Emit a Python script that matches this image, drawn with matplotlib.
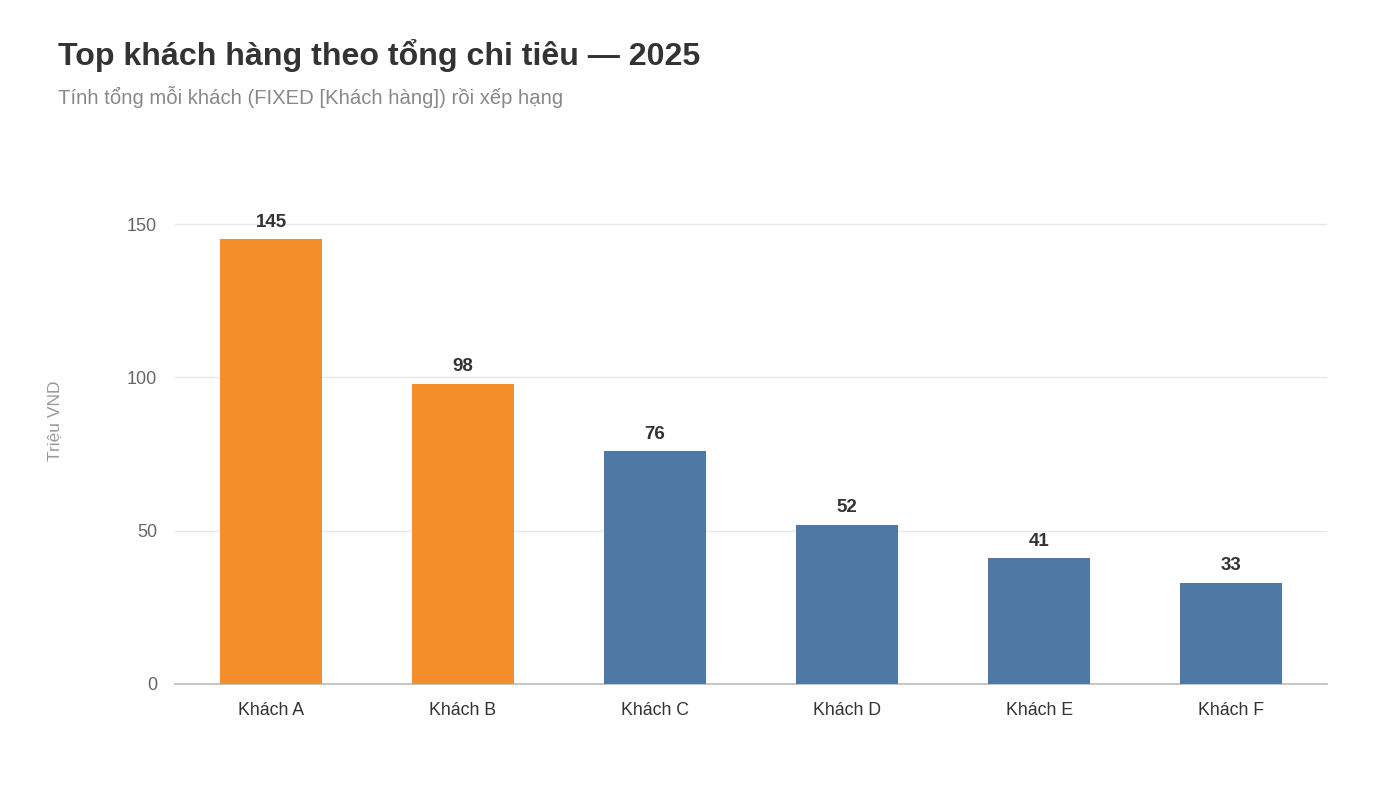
import matplotlib
matplotlib.use("Agg")
import matplotlib.pyplot as plt

categories = ["Khách A", "Khách B", "Khách C", "Khách D", "Khách E", "Khách F"]
values = [145, 98, 76, 52, 41, 33]
highlight = [True, True, False, False, False, False]
yticks = [0, 50, 100, 150]

title = "Top khách hàng theo tổng chi tiêu — 2025"
subtitle = "Tính tổng mỗi khách (FIXED [Khách hàng]) rồi xếp hạng"
ylabel = "Triệu VND"

plt.rcParams['font.family'] = ['Liberation Sans', 'DejaVu Sans']

fig = plt.figure(figsize=(14, 7.87), dpi=100)
ax = fig.add_axes([0.125, 0.1309, 0.823, 0.67])

colors = ["#F28E2B" if h else "#4E79A7" for h in highlight]
x = range(len(categories))
ax.bar(x, values, width=0.53, color=colors, zorder=3)

for xi, v in zip(x, values):
    ax.annotate(f"{v}", (xi, v), xytext=(0, 6), textcoords="offset points",
                ha="center", va="bottom", fontsize=13.5, fontweight="bold", color="#333333")

ax.set_xlim(-0.5, len(categories) - 0.5)
ax.set_ylim(0, 172)
ax.set_yticks(yticks)
ax.set_xticks(list(x))
ax.set_xticklabels(categories)
ax.tick_params(axis="y", length=0, labelsize=13, labelcolor="#666666", pad=13)
ax.tick_params(axis="x", length=0, labelsize=12.8, labelcolor="#333333", pad=13)
ax.grid(axis="y", color="#e8e8e8", linewidth=1, zorder=0)
for s in ["top", "right", "left"]:
    ax.spines[s].set_visible(False)
ax.spines["bottom"].set_color("#bbbbbb")
ax.spines["bottom"].set_linewidth(1.2)
ax.set_ylabel(ylabel, fontsize=12.5, color="#999999", labelpad=46)

fig.text(58/1400, 1 - 65/787, title, fontsize=23.1, fontweight="bold", color="#333333", ha="left", va="baseline")
fig.text(58/1400, 1 - 104/787, subtitle, fontsize=14.6, color="#888888", ha="left", va="baseline")

fig.savefig("out.png", dpi=100, facecolor="white")
